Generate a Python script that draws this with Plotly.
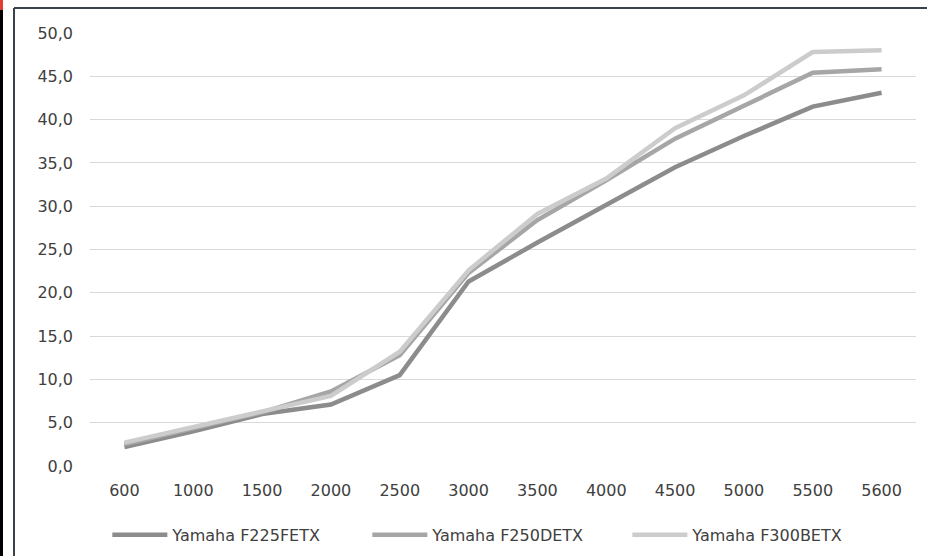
import plotly.graph_objects as go

categories = ["600", "1000", "1500", "2000", "2500", "3000", "3500", "4000", "4500", "5000", "5500", "5600"]
f225 = [2.2, 4.0, 6.0, 7.1, 10.5, 21.3, 25.8, 30.1, 34.5, 38.1, 41.5, 43.1]
f250 = [2.5, 4.4, 6.2, 8.6, 12.8, 22.3, 28.4, 33.0, 37.8, 41.6, 45.4, 45.8]
f300 = [2.7, 4.5, 6.3, 8.1, 13.2, 22.6, 29.1, 33.2, 39.0, 42.8, 47.8, 48.0]
names = ["Yamaha F225FETX", "Yamaha F250DETX", "Yamaha F300BETX"]
colors = ["#8c8c8c", "#a6a6a6", "#cccccc"]
yticks = [0, 5, 10, 15, 20, 25, 30, 35, 40, 45, 50]
yticktext = ["0,0", "5,0", "10,0", "15,0", "20,0", "25,0", "30,0", "35,0", "40,0", "45,0", "50,0"]

fig = go.Figure()
for name, vals, col in zip(names, [f225, f250, f300], colors):
    fig.add_trace(go.Scatter(x=categories, y=vals, name=name, mode="lines",
                             line=dict(color=col, width=4.5)))

fig.update_layout(
    width=927, height=556,
    margin=dict(l=90, r=11, t=33, b=90, autoexpand=False),
    paper_bgcolor="white", plot_bgcolor="white",
    font=dict(family="DejaVu Sans", size=16, color="#404040"),
    xaxis=dict(type="category", range=[-0.5, 11.5], showgrid=False, showline=False, zeroline=False,
               ticks="", tickfont=dict(size=16, color="#404040"), ticklabelstandoff=13),
    yaxis=dict(range=[0, 50], tickvals=yticks, ticktext=yticktext, showgrid=True,
               gridcolor="#d9d9d9", gridwidth=1.3, zeroline=False, showline=False,
               ticks="", ticklabelstandoff=16, tickfont=dict(size=16, color="#404040")),
    legend=dict(orientation="h", x=0.021, xanchor="left", y=-0.159, yanchor="middle",
                entrywidth=190, entrywidthmode="pixels", itemwidth=55,
                font=dict(size=16, color="#404040"), traceorder="normal"),
    showlegend=True,
)

shapes = [
    dict(type="rect", xref="paper", yref="paper", x0=-90/826, x1=-87/826, y0=-90/433, y1=33/433 + 1,
         fillcolor="black", line=dict(width=0), layer="above"),
    dict(type="rect", xref="paper", yref="paper", x0=-90/826, x1=-87/826, y0=1 + 23/433, y1=1 + 33/433,
         fillcolor="#e03c31", line=dict(width=0), layer="above"),
    dict(type="line", xref="paper", yref="paper", x0=-76/826, x1=-76/826, y0=-90/433, y1=1 + 25/433,
         line=dict(color="#3a434c", width=2), layer="above"),
    dict(type="line", xref="paper", yref="paper", x0=-76/826, x1=1 + 11/826, y0=1 + 25/433, y1=1 + 25/433,
         line=dict(color="#3a434c", width=2), layer="above"),
]
fig.update_layout(shapes=shapes)

fig.write_html("out.html", config={"displayModeBar": False},
               post_script="document.body.style.margin='0';document.body.style.overflow='hidden';")
